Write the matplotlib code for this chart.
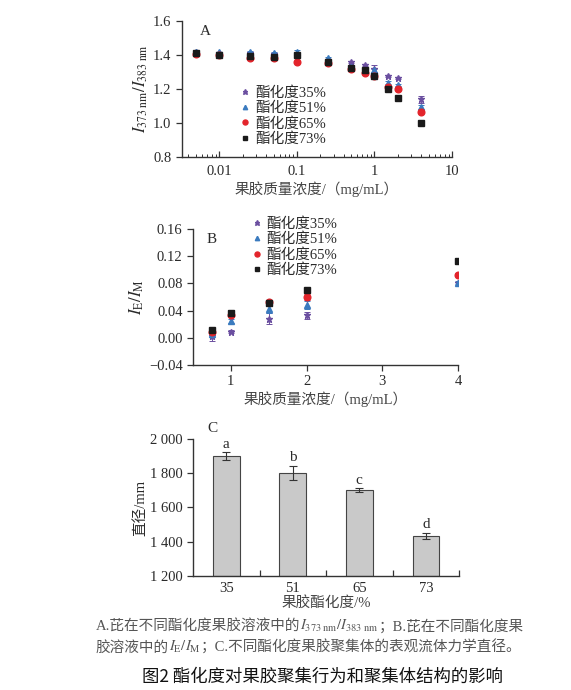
import matplotlib
matplotlib.use('Agg')
import matplotlib.pyplot as plt
import numpy as np
from matplotlib.lines import Line2D
from matplotlib.ticker import FuncFormatter, FixedLocator, NullFormatter

plt.rcParams['font.family'] = ['Liberation Serif', 'Noto Sans CJK SC']
plt.rcParams['mathtext.fontset'] = 'stix'
plt.rcParams['axes.unicode_minus'] = True

# ---- data ----
labels = ['酯化度35%', '酯化度51%', '酯化度65%', '酯化度73%']
conc_a = [0.005, 0.01, 0.025, 0.05, 0.1, 0.25, 0.5, 0.75, 1, 1.5, 2, 4]
ratio_35 = [1.415, 1.41, 1.41, 1.405, 1.40, 1.37, 1.357, 1.342, 1.32, 1.277, 1.263, 1.139]
ratio_51 = [1.415, 1.415, 1.415, 1.41, 1.415, 1.38, 1.33, 1.31, 1.31, 1.237, 1.224, 1.096]
ratio_65 = [1.405, 1.40, 1.385, 1.38, 1.36, 1.355, 1.315, 1.295, 1.275, 1.21, 1.198, 1.067]
ratio_73 = [1.41, 1.40, 1.395, 1.39, 1.40, 1.36, 1.325, 1.31, 1.275, 1.20, 1.147, 1.002]
err_a_35 = [0.006, 0.005, 0.006, 0.005, 0.006, 0.005, 0.006, 0.006, 0.022, 0.006, 0.006, 0.02]
err_a_51 = [0.005, 0.005, 0.006, 0.005, 0.012, 0.006, 0.006, 0.006, 0.01, 0.01, 0.006, 0.012]
err_a_65 = [0.004, 0.004, 0.005, 0.005, 0.004, 0.004, 0.006, 0.006, 0.006, 0.008, 0.006, 0.01]
err_a_73 = [0.004, 0.004, 0.006, 0.005, 0.004, 0.004, 0.005, 0.005, 0.006, 0.006, 0.005, 0.006]

conc_b = [0.75, 1, 1.5, 2, 4]
ie_35 = [0.003, 0.009, 0.028, 0.033, 0.080]
ie_51 = [0.005, 0.025, 0.042, 0.048, 0.081]
ie_65 = [0.008, 0.033, 0.053, 0.060, 0.093]
ie_73 = [0.012, 0.037, 0.051, 0.070, 0.113]
err_b_35 = [0.007, 0.002, 0.008, 0.005, 0.002]
err_b_51 = [0.004, 0.003, 0.005, 0.006, 0.002]
err_b_65 = [0.003, 0.003, 0.003, 0.005, 0.002]
err_b_73 = [0.002, 0.004, 0.003, 0.004, 0.004]

de_cats = ['35', '51', '65', '73']
diameter = [1902, 1803, 1700, 1434]
diameter_err = [22, 42, 12, 18]
sig_letters = ['a', 'b', 'c', 'd']

colors = ['#6b4fa0', '#3b7bbf', '#e3242b', '#1a1a1a']
markers = ['*', '^', 'o', 's']
msizes = [5, 4.2, 4.8, 4.2]
txt = '#2a2a2a'

fig = plt.figure(figsize=(5.71, 6.90), dpi=100)


def style_axes(ax):
    for s in ['top', 'right']:
        ax.spines[s].set_visible(False)
    for s in ['left', 'bottom']:
        ax.spines[s].set_color('#333333')
        ax.spines[s].set_linewidth(1.0)
    ax.tick_params(colors='#333333', labelcolor=txt, labelsize=10.5, width=0.9, length=4)


def legend_handles():
    return [Line2D([], [], ls='none', marker=m, color=c, mec=c, ms=ms * 0.75)
            for c, m, ms in zip(colors, markers, msizes)]


# ---- panel A ----
axA = fig.add_axes([0.3187, 0.7725, 0.473, 0.197])
seriesA = [(ratio_35, err_a_35), (ratio_51, err_a_51), (ratio_65, err_a_65), (ratio_73, err_a_73)]
for (vals, errs), c, m, ms in zip(seriesA, colors, markers, msizes):
    axA.errorbar(conc_a, vals, yerr=errs, fmt=m, color=c, ms=ms, ecolor=c,
                 elinewidth=0.7, capsize=2.5, capthick=0.7, mec=c)
axA.set_xscale('log')
axA.set_xlim(0.0033, 10)
axA.set_ylim(0.8, 1.6)
axA.set_yticks([0.8, 1.0, 1.2, 1.4, 1.6])
axA.yaxis.set_major_formatter(FuncFormatter(lambda v, p: '%.1f' % v))
axA.set_xticks([0.01, 0.1, 1, 10])
axA.xaxis.set_major_formatter(FuncFormatter(lambda v, p: '%g' % v))
axA.xaxis.set_minor_formatter(NullFormatter())
style_axes(axA)
axA.tick_params(axis='x', which='both', direction='in')
axA.tick_params(axis='x', which='minor', length=2.5, width=0.7, colors='#333333')
axA.tick_params(axis='x', pad=6)
axA.set_ylabel(r'$I_{373\ \mathrm{nm}}/I_{383\ \mathrm{nm}}$', fontsize=12, color=txt, labelpad=2)
axA.set_xlabel('果胶质量浓度/（mg/mL）', fontsize=10.5, color='#444444', labelpad=2)
axA.text(0.065, 0.97, 'A', transform=axA.transAxes, fontsize=11, color=txt, va='top')
axA.legend(legend_handles(), labels, loc='upper left', bbox_to_anchor=(0.18, 0.575),
           frameon=False, fontsize=10.5, handletextpad=0.2, labelspacing=0.12,
           borderpad=0, handlelength=1.0, labelcolor=txt)

# ---- panel B ----
axB = fig.add_axes([0.338, 0.471, 0.464, 0.197])
seriesB = [(ie_35, err_b_35), (ie_51, err_b_51), (ie_65, err_b_65), (ie_73, err_b_73)]
for (vals, errs), c, m, ms in zip(seriesB, colors, markers, msizes):
    axB.errorbar(conc_b, vals, yerr=errs, fmt=m, color=c, ms=ms, ecolor=c,
                 elinewidth=0.7, capsize=2.5, capthick=0.7, mec=c)
axB.set_xlim(0.5, 4.0)
axB.set_ylim(-0.04, 0.16)
axB.set_yticks([-0.04, 0.0, 0.04, 0.08, 0.12, 0.16])
axB.yaxis.set_major_formatter(FuncFormatter(lambda v, p: ('%.2f' % v).replace('-', '\u2212')))
axB.set_xticks([1, 2, 3, 4])
style_axes(axB)
axB.set_ylabel(r'$I_{\mathrm{E}}/I_{\mathrm{M}}$', fontsize=12, color=txt, labelpad=2)
axB.set_xlabel('果胶质量浓度/（mg/mL）', fontsize=10.5, color='#444444', labelpad=2)
axB.text(0.05, 0.97, 'B', transform=axB.transAxes, fontsize=11, color=txt, va='top')
axB.legend(legend_handles(), labels, loc='upper left', bbox_to_anchor=(0.185, 1.14),
           frameon=False, fontsize=10.5, handletextpad=0.2, labelspacing=0.12,
           borderpad=0, handlelength=1.0, labelcolor=txt)

# ---- panel C ----
axC = fig.add_axes([0.338, 0.1652, 0.466, 0.1986])
xpos = np.arange(len(de_cats))
axC.bar(xpos, np.array(diameter) - 1200, bottom=1200, width=0.4, color='#c9c9c9',
        edgecolor='#444444', linewidth=0.8)
axC.errorbar(xpos, diameter, yerr=diameter_err, fmt='none', ecolor='#333333',
             elinewidth=0.8, capsize=3, capthick=0.8)
for x, v, e, s in zip(xpos, diameter, diameter_err, sig_letters):
    axC.text(x, v + e + 8, s, ha='center', va='bottom', fontsize=11, color=txt)
axC.set_xlim(-0.5, 3.5)
axC.set_ylim(1200, 2000)
axC.set_yticks([1200, 1400, 1600, 1800, 2000])
axC.yaxis.set_major_formatter(FuncFormatter(lambda v, p: '%d %03d' % (v // 1000, v % 1000)))
axC.set_xticks(xpos)
axC.set_xticklabels(de_cats)
axC.xaxis.set_minor_locator(FixedLocator([0.5, 1.5, 2.5, 3.5]))
style_axes(axC)
axC.tick_params(axis='x', which='major', length=0, pad=4)
axC.tick_params(axis='x', which='minor', direction='in', length=4, width=0.9, colors='#333333')
axC.set_ylabel('直径/mm', fontsize=10.5, color=txt, labelpad=2)
axC.set_xlabel('果胶酯化度/%', fontsize=10.5, color='#444444', labelpad=1)
axC.text(0.055, 1.03, 'C', transform=axC.transAxes, fontsize=11, color=txt, va='bottom')

# ---- caption ----
cap = '#555555'
cfs = 10.5
t = fig.text(96 / 571, 1 - 627 / 690, 'A.芘在不同酯化度果胶溶液中的', fontsize=cfs, color=cap, va='center')
t = plt.annotate(r'$I_{373\ \mathrm{nm}}/I_{383\ \mathrm{nm}}$', xy=(1, 0), xycoords=t,
                 fontsize=cfs, color=cap, va='bottom')
t = plt.annotate('；B.芘在不同酯化度果', xy=(1, 0), xycoords=t, fontsize=cfs, color=cap, va='bottom')
t = fig.text(96 / 571, 1 - 648 / 690, '胶溶液中的', fontsize=cfs, color=cap, va='center')
t = plt.annotate(r'$I_{\mathrm{E}}/I_{\mathrm{M}}$', xy=(1, 0), xycoords=t,
                 fontsize=cfs, color=cap, va='bottom')
t = plt.annotate('；C.不同酯化度果胶聚集体的表观流体力学直径。', xy=(1, 0), xycoords=t,
                 fontsize=cfs, color=cap, va='bottom')
fig.text(142 / 571, 1 - 677 / 690, '图2 酯化度对果胶聚集行为和聚集体结构的影响',
         fontsize=12.5, color='#111111', va='center', family=['Noto Sans CJK SC', 'DejaVu Sans'])

fig.savefig('out.png', dpi=100)
